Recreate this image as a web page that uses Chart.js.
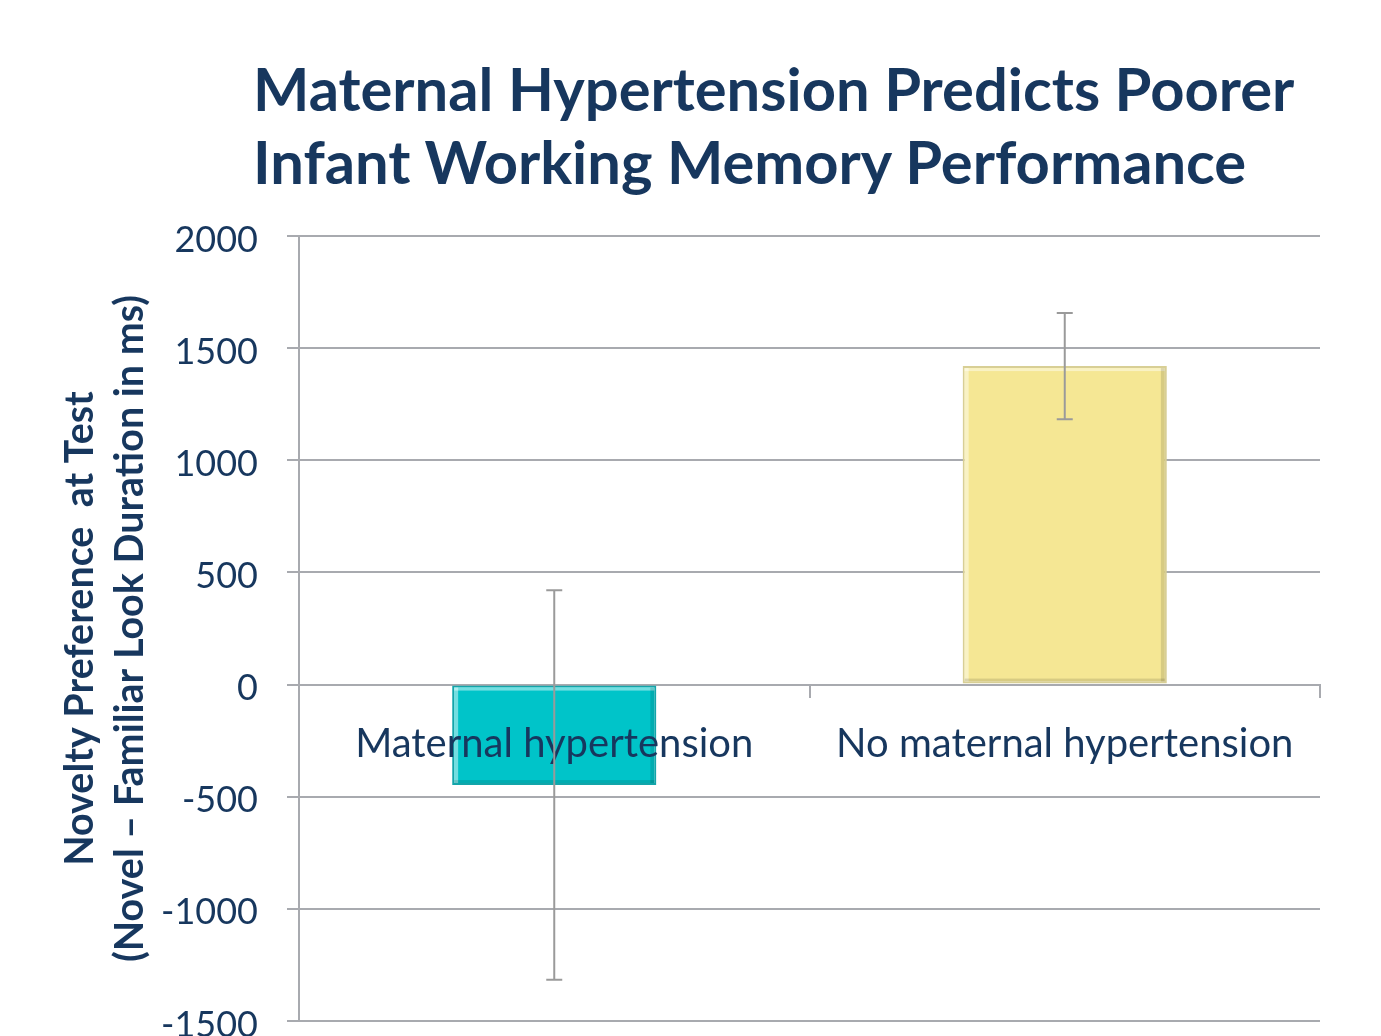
<!DOCTYPE html>
<html>
<head>
<meta charset="utf-8">
<script src="https://cdn.jsdelivr.net/npm/chart.js@4"></script>
<style>
  html, body { margin: 0; padding: 0; background: #fff; }
  #wrap { position: relative; width: 1381px; height: 1036px; overflow: hidden; }
  #title { position: absolute; left: 253px; top: 52px; margin: 0; font-family: Lato, sans-serif; font-weight: bold; font-size: 59.7px; line-height: 73px; color: #17375E; white-space: nowrap; }
  canvas { position: absolute; left: 0; top: 0; }
</style>
</head>
<body>
<div id="wrap">
  <canvas id="c" width="1381" height="1036"></canvas>
  <h1 id="title">Maternal Hypertension Predicts Poorer<br>Infant Working Memory Performance</h1>
</div>
<script>
const categories = ['Maternal hypertension', 'No maternal hypertension'];
const means = [-448, 1420];
const errors = [868, 237];
const barColors = ['#00C4C9', '#F5E794'];
const barBorders = ['#13A5AA', '#D8CF95'];
const yTitle = ['Novelty Preference  at Test', '(Novel \u2013 Familiar Look Duration in ms)'];

const navy = '#17375E';
const gridGray = '#A8AAAF';

const bevelPlugin = {
  id: 'bevel',
  afterDatasetsDraw(chart) {
    const ctx = chart.ctx;
    const meta = chart.getDatasetMeta(0);
    ctx.save();
    meta.data.forEach((bar) => {
      const left = bar.x - bar.width / 2, right = bar.x + bar.width / 2;
      const top = Math.min(bar.y, bar.base), bottom = Math.max(bar.y, bar.base);
      ctx.fillStyle = 'rgba(255,255,255,0.45)';
      ctx.fillRect(left + 2, top + 2, 4, bottom - top - 4);
      ctx.fillRect(left + 2, top + 2, right - left - 4, 3);
      ctx.fillStyle = 'rgba(0,0,0,0.12)';
      ctx.fillRect(left + 2, bottom - 5, right - left - 4, 3);
      ctx.fillRect(right - 6, top + 2, 4, bottom - top - 4);
    });
    ctx.restore();
  }
};

const errorBarPlugin = {
  id: 'errorBars',
  afterDraw(chart) {
    const ctx = chart.ctx;
    const meta = chart.getDatasetMeta(0);
    const y = chart.scales.y;
    ctx.save();
    ctx.strokeStyle = '#9A9A9A';
    ctx.lineWidth = 2;
    meta.data.forEach((bar, i) => {
      const x = bar.x;
      const hi = y.getPixelForValue(means[i] + errors[i]);
      const lo = y.getPixelForValue(means[i] - errors[i]);
      ctx.beginPath();
      ctx.moveTo(x, hi); ctx.lineTo(x, lo);
      ctx.moveTo(x - 8, hi); ctx.lineTo(x + 8, hi);
      ctx.moveTo(x - 8, lo); ctx.lineTo(x + 8, lo);
      ctx.stroke();
    });
    ctx.restore();
  }
};

new Chart(document.getElementById('c'), {
  type: 'bar',
  data: {
    labels: categories,
    datasets: [{
      data: means,
      backgroundColor: barColors,
      borderColor: barBorders,
      borderWidth: 2,
      borderSkipped: false,
      barPercentage: 0.4,
      categoryPercentage: 1.0
    }]
  },
  options: {
    responsive: false,
    animation: false,
    layout: { padding: { top: 236, bottom: 15, right: 61, left: 0 } },
    plugins: { legend: { display: false }, tooltip: { enabled: false } },
    scales: {
      x: {
        position: { y: 0 },
        grid: { drawOnChartArea: false, drawTicks: true, tickLength: 12, offset: true, color: gridGray, lineWidth: 2 },
        border: { color: gridGray, width: 2 },
        ticks: { z: 1, color: navy, font: { family: 'Lato', size: 40 }, padding: 24 }
      },
      y: {
        min: -1500, max: 2000,
        ticks: { stepSize: 500, color: navy, font: { family: 'Lato', size: 36 }, padding: 29, labelOffset: 4, callback: (v) => String(v) },
        grid: { color: gridGray, lineWidth: 2, tickLength: 12 },
        border: { color: gridGray, width: 2 },
        title: { display: true, text: yTitle, color: navy, font: { family: 'Lato', size: 39.5, weight: 'bold', lineHeight: 1.27 }, padding: { top: 55, bottom: 0 } },
        afterFit(scale) { scale.width = 299; scale.paddingTop = 0; scale.paddingBottom = 0; }
      }
    }
  },
  plugins: [bevelPlugin, errorBarPlugin]
});
</script>
</body>
</html>
